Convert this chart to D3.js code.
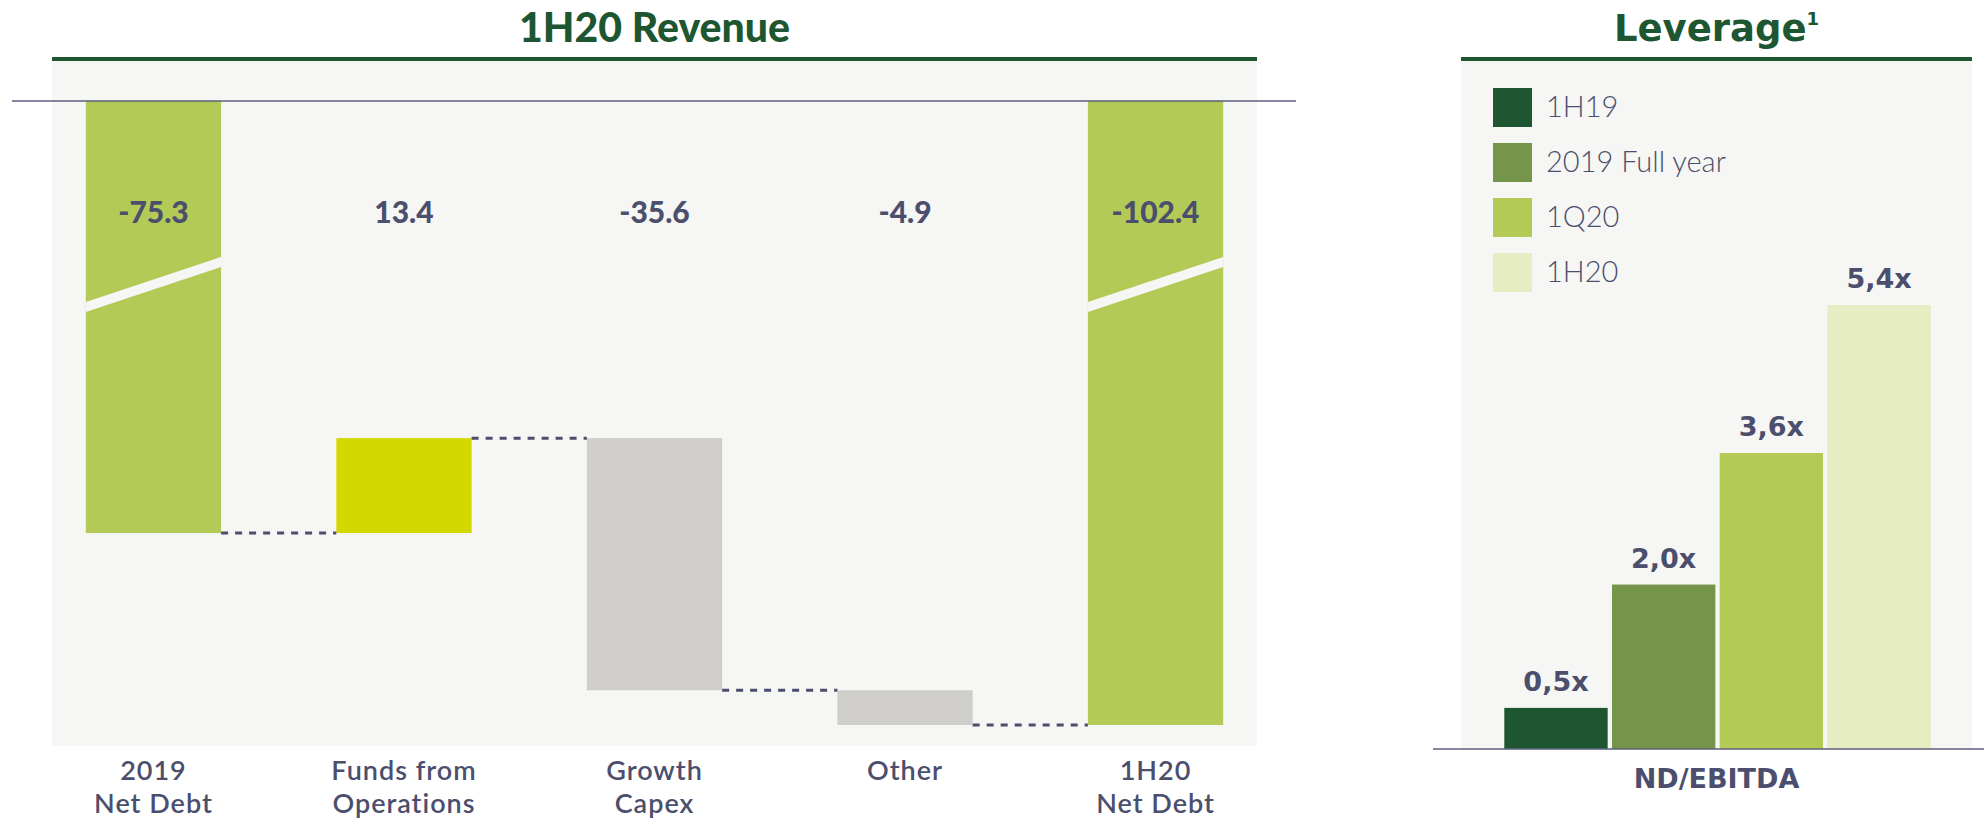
<!DOCTYPE html>
<html>
<head>
<meta charset="utf-8">
<script src="https://cdn.jsdelivr.net/npm/d3@7"></script>
<style>
  body { margin: 0; background: #ffffff; }
  svg { display: block; }
</style>
</head>
<body>
<svg id="chart"></svg>
<script>
// waterfall data
const wfCategories = [["2019", "Net Debt"], ["Funds from", "Operations"], ["Growth", "Capex"], ["Other"], ["1H20", "Net Debt"]];
const wfValues = [-75.3, 13.4, -35.6, -4.9, -102.4];
const wfTypes = ["total", "delta", "delta", "delta", "total"];
const wfLabels = ["-75.3", "13.4", "-35.6", "-4.9", "-102.4"];

// leverage data
const levCategories = ["1H19", "2019 Full year", "1Q20", "1H20"];
const levValues = [0.5, 2.0, 3.6, 5.4];
const levLabels = ["0,5x", "2,0x", "3,6x", "5,4x"];

const width = 1984, height = 821;
const slate = "#4b4f6d";
const darkGreen = "#1e5631";
const panelBg = "#f6f6f4";
const levColors = ["#1e5631", "#74954a", "#b3cb56", "#e6edc3"];

const svg = d3.select("#chart").attr("width", width).attr("height", height);

// ---------- left: waterfall ----------
const left = { x0: 52, x1: 1257, top: 61, bottom: 746, axisY: 101 };
const breakLevel = -14.3; // value sitting on the top axis line (axis is broken)

svg.append("rect")
    .attr("x", left.x0).attr("y", left.top)
    .attr("width", left.x1 - left.x0).attr("height", left.bottom - left.top)
    .attr("fill", panelBg);

svg.append("text")
    .attr("x", (left.x0 + left.x1) / 2).attr("y", 42)
    .attr("text-anchor", "middle")
    .attr("font-family", "Lato")
    .attr("font-weight", 900)
    .attr("font-size", "41px")
    .attr("fill", darkGreen)
    .text("1H20 Revenue");

svg.append("rect")
    .attr("x", left.x0).attr("y", 57)
    .attr("width", left.x1 - left.x0).attr("height", 4)
    .attr("fill", darkGreen);

const xw = d3.scaleBand()
    .domain(d3.range(wfValues.length))
    .range([left.x0, left.x1])
    .paddingInner(0.46)
    .paddingOuter(0.135);

const yw = d3.scaleLinear()
    .domain([breakLevel, -102.4])
    .range([left.axisY, 725]);

// build bar extents
let running = 0;
const wfBars = wfValues.map((v, i) => {
    let from, to;
    if (wfTypes[i] === "total") {
        from = breakLevel; to = v; running = v;
    } else {
        from = running; to = running + v; running = to;
    }
    return { i, v, from, to, end: running, type: wfTypes[i] };
});

svg.append("g").selectAll("rect")
    .data(wfBars)
    .enter().append("rect")
    .attr("x", d => xw(d.i))
    .attr("width", xw.bandwidth())
    .attr("y", d => Math.min(yw(d.from), yw(d.to)))
    .attr("height", d => Math.abs(yw(d.to) - yw(d.from)))
    .attr("fill", d => d.type === "total" ? "#b3cb56" : (d.v > 0 ? "#d2d800" : "#cfcecb"));

// break slashes on the total bars
const slashMid = yw(-40.2);
svg.append("g").selectAll("polygon")
    .data(wfBars.filter(d => d.type === "total"))
    .enter().append("polygon")
    .attr("fill", panelBg)
    .attr("points", d => {
        const a = xw(d.i), b = a + xw.bandwidth();
        const rise = xw.bandwidth() / 3;
        return [[a, slashMid + rise / 2 - 5], [b, slashMid - rise / 2 - 5],
                [b, slashMid - rise / 2 + 5], [a, slashMid + rise / 2 + 5]].join(" ");
    });

// dotted connectors
svg.append("g").selectAll("line")
    .data(wfBars.slice(0, -1))
    .enter().append("line")
    .attr("x1", d => xw(d.i) + xw.bandwidth())
    .attr("x2", d => xw(d.i + 1))
    .attr("y1", d => yw(d.end))
    .attr("y2", d => yw(d.end))
    .attr("stroke", slate)
    .attr("stroke-width", 3)
    .attr("stroke-dasharray", "7,7");

// top axis line
svg.append("line")
    .attr("x1", 12).attr("x2", 1296)
    .attr("y1", left.axisY).attr("y2", left.axisY)
    .attr("stroke", "#5b5f7c").attr("stroke-width", 1.5);

// value labels
svg.append("g").selectAll("text")
    .data(wfBars)
    .enter().append("text")
    .attr("x", d => xw(d.i) + xw.bandwidth() / 2)
    .attr("y", 223)
    .attr("text-anchor", "middle")
    .attr("font-family", "Lato")
    .attr("font-weight", 900)
    .attr("font-size", "30px")
    .attr("fill", slate)
    .text(d => wfLabels[d.i]);

// category labels
const catG = svg.append("g").selectAll("text")
    .data(wfCategories)
    .enter().append("text")
    .attr("x", (d, i) => xw(i) + xw.bandwidth() / 2)
    .attr("y", 780)
    .attr("text-anchor", "middle")
    .attr("font-family", "Lato")
    .attr("font-weight", 600)
    .attr("font-size", "27px")
    .attr("letter-spacing", "1px")
    .attr("fill", slate);

catG.selectAll("tspan")
    .data((d, i) => d.map(t => ({ t, i })))
    .enter().append("tspan")
    .attr("x", d => xw(d.i) + xw.bandwidth() / 2)
    .attr("dy", (d, j) => j === 0 ? 0 : 33)
    .text(d => d.t);

// ---------- right: leverage ----------
const right = { x0: 1461, x1: 1972, top: 61, axisY: 749 };

svg.append("rect")
    .attr("x", right.x0).attr("y", right.top)
    .attr("width", right.x1 - right.x0).attr("height", right.axisY - right.top)
    .attr("fill", panelBg);

const levTitle = svg.append("text")
    .attr("x", (right.x0 + right.x1) / 2).attr("y", 41)
    .attr("text-anchor", "middle")
    .attr("font-family", "DejaVu Sans")
    .attr("font-weight", 700)
    .attr("font-size", "37px")
    .attr("fill", darkGreen);
levTitle.append("tspan").text("Leverage");
levTitle.append("tspan")
    .attr("font-size", "18px")
    .attr("dy", -16)
    .text("1");

svg.append("rect")
    .attr("x", right.x0).attr("y", 57)
    .attr("width", right.x1 - right.x0).attr("height", 4)
    .attr("fill", darkGreen);

const xl = d3.scaleBand()
    .domain(levCategories)
    .range([1500, 1935])
    .paddingInner(0.04)
    .paddingOuter(0.04);

const yl = d3.scaleLinear()
    .domain([0, 5.4])
    .range([right.axisY, 305]);

svg.append("g").selectAll("rect")
    .data(levValues)
    .enter().append("rect")
    .attr("x", (d, i) => xl(levCategories[i]))
    .attr("width", xl.bandwidth())
    .attr("y", d => yl(d))
    .attr("height", d => yl(0) - yl(d))
    .attr("fill", (d, i) => levColors[i]);

svg.append("g").selectAll("text")
    .data(levValues)
    .enter().append("text")
    .attr("x", (d, i) => xl(levCategories[i]) + xl.bandwidth() / 2)
    .attr("y", d => yl(d) - 17)
    .attr("text-anchor", "middle")
    .attr("font-family", "DejaVu Sans")
    .attr("font-weight", 700)
    .attr("font-size", "27px")
    .attr("fill", slate)
    .text((d, i) => levLabels[i]);

svg.append("line")
    .attr("x1", 1433).attr("x2", width)
    .attr("y1", right.axisY).attr("y2", right.axisY)
    .attr("stroke", "#5b5f7c").attr("stroke-width", 1.5);

svg.append("text")
    .attr("x", (right.x0 + right.x1) / 2).attr("y", 788)
    .attr("text-anchor", "middle")
    .attr("font-family", "DejaVu Sans")
    .attr("font-weight", 700)
    .attr("font-size", "27px")
    .attr("fill", slate)
    .text("ND/EBITDA");

// legend
const legend = svg.append("g").selectAll("g")
    .data(levCategories)
    .enter().append("g")
    .attr("transform", (d, i) => `translate(1493,${88 + i * 55})`);

legend.append("rect")
    .attr("width", 39).attr("height", 39)
    .attr("fill", (d, i) => levColors[i]);

legend.append("text")
    .attr("x", 53).attr("y", 29)
    .attr("font-family", "Lato")
    .attr("font-weight", 300)
    .attr("font-size", "29px")
    .attr("fill", slate)
    .text(d => d);
</script>
</body>
</html>
